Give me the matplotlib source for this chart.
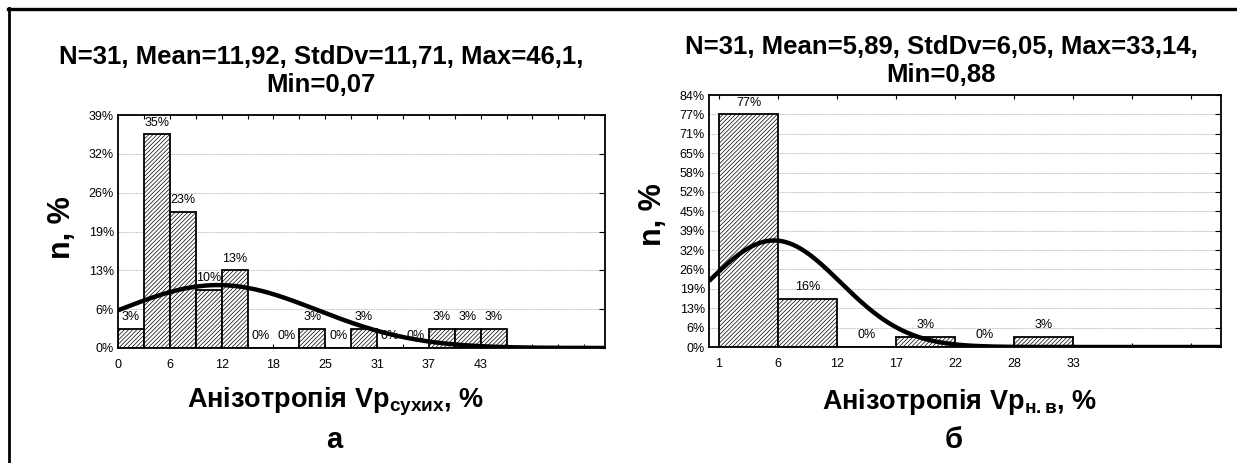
import numpy as np
import matplotlib
matplotlib.use("Agg")
import matplotlib.pyplot as plt
from matplotlib.lines import Line2D

plt.rcParams['font.family'] = ['Liberation Sans', 'DejaVu Sans']
plt.rcParams['mathtext.fontset'] = 'custom'
plt.rcParams['mathtext.rm'] = 'Liberation Sans:bold'
plt.rcParams['mathtext.it'] = 'Liberation Sans:bold'
plt.rcParams['mathtext.bf'] = 'Liberation Sans:bold'
plt.rcParams['hatch.linewidth'] = 0.5

# --- dry samples (а) ---
a_n, a_mean, a_std, a_min, a_max = 31, 11.92, 11.71, 0.07, 46.1
a_pct = [3.23, 35.48, 22.58, 9.68, 12.90, 0, 0, 3.23, 0, 3.23, 0, 0, 3.23, 3.23, 3.23]
a_xlabels = ["0", "6", "12", "18", "25", "31", "37", "43"]
a_yticks = [0, 6.45, 12.90, 19.35, 25.81, 32.26, 38.71]
a_ylabels = ["0%", "6%", "13%", "19%", "26%", "32%", "39%"]
a_title = "N=31, Mean=11,92, StdDv=11,71, Max=46,1,\nMin=0,07"

# --- water-saturated samples (б) ---
b_n, b_mean, b_std, b_min, b_max = 31, 5.89, 6.05, 0.88, 33.14
b_pct = [77.42, 16.13, 0, 3.23, 0, 3.23]
b_xlabels = ["1", "6", "12", "17", "22", "28", "33"]
b_yticks = [0, 6.45, 12.90, 19.35, 25.81, 32.26, 38.71, 45.16, 51.61,
            58.06, 64.52, 70.97, 77.42, 83.87]
b_ylabels = ["0%", "6%", "13%", "19%", "26%", "32%", "39%", "45%", "52%",
             "58%", "65%", "71%", "77%", "84%"]
b_title = "N=31, Mean=5,89, StdDv=6,05, Max=33,14,\nMin=0,88"


def hist_panel(ax, pct, lo, hi, mean, std, xlabels, label_step, yticks, ylabels, xmax_bins, xmin_pad=0.0):
    nb = len(pct)
    w = (hi - lo) / nb
    edges = lo + w * np.arange(nb + 1)
    ax.set_axisbelow(True)
    ax.bar(edges[:-1], pct, width=w, align='edge', color='white',
           edgecolor='black', linewidth=1.3, hatch='////////', zorder=2)
    for x0, v in zip(edges[:-1], pct):
        ax.annotate(f"{v:.0f}%", (x0 + w / 2, v), xytext=(0, 8.5),
                    textcoords='offset points', ha='center', va='center',
                    fontsize=9, zorder=4)

    x_lo = lo - xmin_pad * w
    x_hi = lo + xmax_bins * w
    xs = np.linspace(x_lo, x_hi, 400)
    curve = 100 * w * np.exp(-0.5 * ((xs - mean) / std) ** 2) / (std * np.sqrt(2 * np.pi))
    ax.plot(xs, curve, color='black', linewidth=3.2, zorder=3, solid_capstyle='butt')

    ax.set_xlim(x_lo, x_hi)
    ax.set_ylim(0, yticks[-1])
    all_edges = lo + w * np.arange(int(xmax_bins) + 1)
    ax.set_xticks(all_edges)
    labs = [""] * len(all_edges)
    for i, t in enumerate(xlabels):
        labs[i * label_step] = t
    ax.set_xticklabels(labs, fontsize=9)
    ax.set_yticks(yticks)
    ax.set_yticklabels(ylabels, fontsize=9)
    ax.tick_params(axis='x', which='both', direction='in', top=True, length=3, pad=8)
    ax.tick_params(axis='y', direction='in', right=True, left=False, length=4, pad=3)
    ax.grid(axis='y', color='#b8b8b8', linestyle=(0, (2, 1)), linewidth=0.6)
    for s in ax.spines.values():
        s.set_linewidth(1.3)


fig = plt.figure(figsize=(12.37, 4.63), dpi=100)

ax1 = fig.add_axes([118 / 1237, 1 - 348 / 463, 487 / 1237, 233 / 463])
hist_panel(ax1, a_pct, a_min, a_max, a_mean, a_std, a_xlabels, 2,
           a_yticks, a_ylabels, 18.8)

ax2 = fig.add_axes([709 / 1237, 1 - 347 / 463, 512 / 1237, 252 / 463])
hist_panel(ax2, b_pct, b_min, b_max, b_mean, b_std, b_xlabels, 1,
           b_yticks, b_ylabels, 8.5, xmin_pad=0.17)

# titles, axis captions and panel letters
fig.text(321 / 1237, 1 - 71 / 463, a_title, ha='center', va='center',
         fontsize=18.5, fontweight='bold', linespacing=1.2)
fig.text(941 / 1237, 1 - 61 / 463, b_title, ha='center', va='center',
         fontsize=18.5, fontweight='bold', linespacing=1.2)

fig.text(62 / 1237, 1 - 228 / 463, "n, %", rotation=90, ha='center', va='center',
         fontsize=22, fontweight='bold')
fig.text(653 / 1237, 1 - 215 / 463, "n, %", rotation=90, ha='center', va='center',
         fontsize=22, fontweight='bold')

fig.text(336 / 1237, 1 - 402 / 463, r"Анізотропія Vp$_{\mathrm{сухих}}$, %",
         ha='center', va='center', fontsize=19.5, fontweight='bold')
fig.text(960 / 1237, 1 - 402 / 463, r"Анізотропія Vp$_{\mathrm{н.в}}$, %",
         ha='center', va='center', fontsize=19.5, fontweight='bold')

fig.text(334 / 1237, 1 - 440 / 463, "а", ha='center', va='center',
         fontsize=21, fontweight='bold')
fig.text(954 / 1237, 1 - 440 / 463, "б", ha='center', va='center',
         fontsize=21, fontweight='bold')

# outer frame (top and left edges)
fig.add_artist(Line2D([8 / 1237, 1], [1 - 9 / 463, 1 - 9 / 463], color='black',
                      linewidth=2.4, transform=fig.transFigure))
fig.add_artist(Line2D([9 / 1237, 9 / 1237], [0, 1 - 8 / 463], color='black',
                      linewidth=2.0, transform=fig.transFigure))

fig.savefig("out.png", dpi=100)
